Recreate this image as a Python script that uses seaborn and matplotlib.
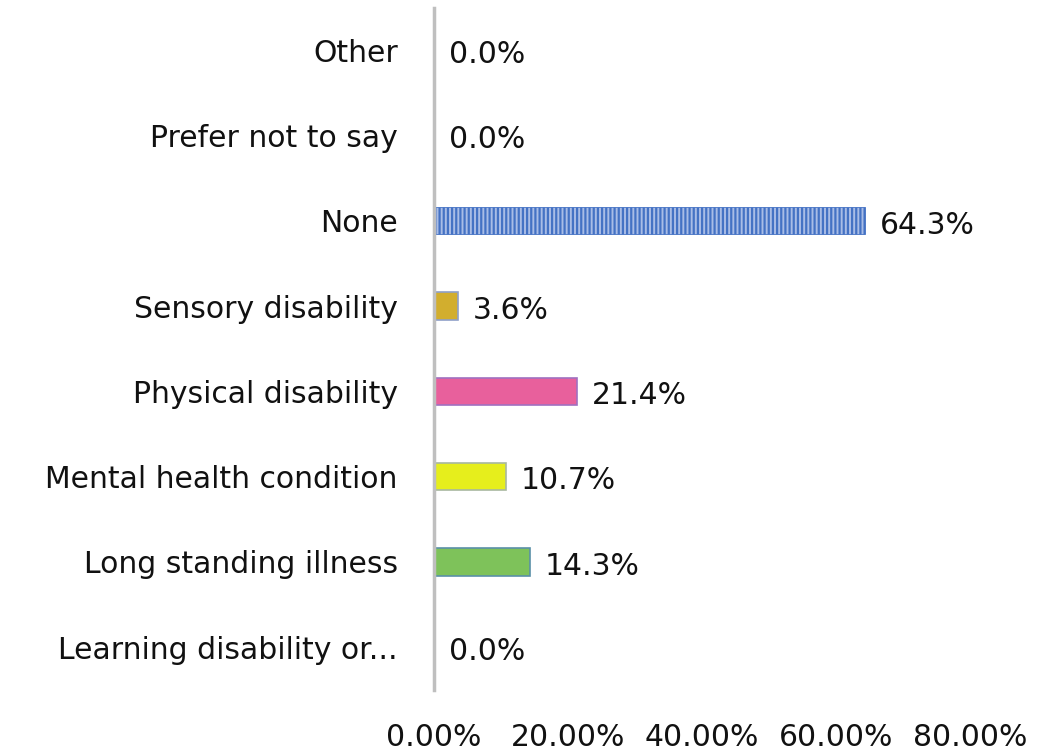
import matplotlib
matplotlib.use("Agg")
import matplotlib.pyplot as plt
import seaborn as sns
import pandas as pd

# Data (top to bottom as shown)
categories = ["Other", "Prefer not to say", "None", "Sensory disability",
              "Physical disability", "Mental health condition",
              "Long standing illness", "Learning disability or..."]
values = [0.0, 0.0, 64.3, 3.6, 21.4, 10.7, 14.3, 0.0]
bar_colors = ["#4472C4", "#4472C4", "#4472C4", "#D2AE2E",
              "#E8609C", "#E6EE1C", "#7EC25A", "#4472C4"]
edge_colors = ["#4472C4", "#4472C4", "#4472C4", "#8FA0C8",
               "#A070C0", "#A8B8A0", "#5A90A8", "#4472C4"]
x_ticks = [0, 20, 40, 60, 80]

df = pd.DataFrame({"category": categories, "value": values})

sns.set_theme(style="white")
plt.rcParams["font.family"] = ["DejaVu Sans"]
plt.rcParams["hatch.linewidth"] = 1.6
plt.rcParams["hatch.color"] = "#4472C4"

fig = plt.figure(figsize=(10.47, 7.54), dpi=100)
ax = fig.add_axes([0.4145, 0.085, 0.512, 0.905])

sns.barplot(data=df, y="category", x="value", hue="category",
            palette=bar_colors, orient="h", width=0.32,
            legend=False, ax=ax, saturation=1)

for patch, ec, cat in zip(ax.patches, edge_colors, categories):
    patch.set_edgecolor(ec)
    patch.set_linewidth(1.2)
    if cat == "None":
        patch.set_facecolor("#A9BDE6")
        patch.set_hatch("||||")
        patch.set_edgecolor("#4472C4")
        patch.set_linewidth(0.6)

fs = 21.5

# Data labels
for i, v in enumerate(values):
    ax.text(v + 2.2, i + 0.05, f"{v:.1f}%", va="center", ha="left",
            fontsize=fs, color="#111111")

ax.set_xlim(0, 80)
ax.set_ylim(7.5, -0.5)
ax.set_xticks(x_ticks)
ax.set_xticklabels([f"{t:.2f}%" for t in x_ticks], fontsize=fs, color="#111111")
ax.tick_params(axis="x", length=0, pad=24)
ax.tick_params(axis="y", length=0, pad=26, labelsize=fs, labelcolor="#111111")
ax.set_xlabel("")
ax.set_ylabel("")

for side in ["top", "right", "bottom"]:
    ax.spines[side].set_visible(False)
ax.spines["left"].set_color("#BFBFBF")
ax.spines["left"].set_linewidth(2.5)

fig.savefig("out.png", dpi=100)
